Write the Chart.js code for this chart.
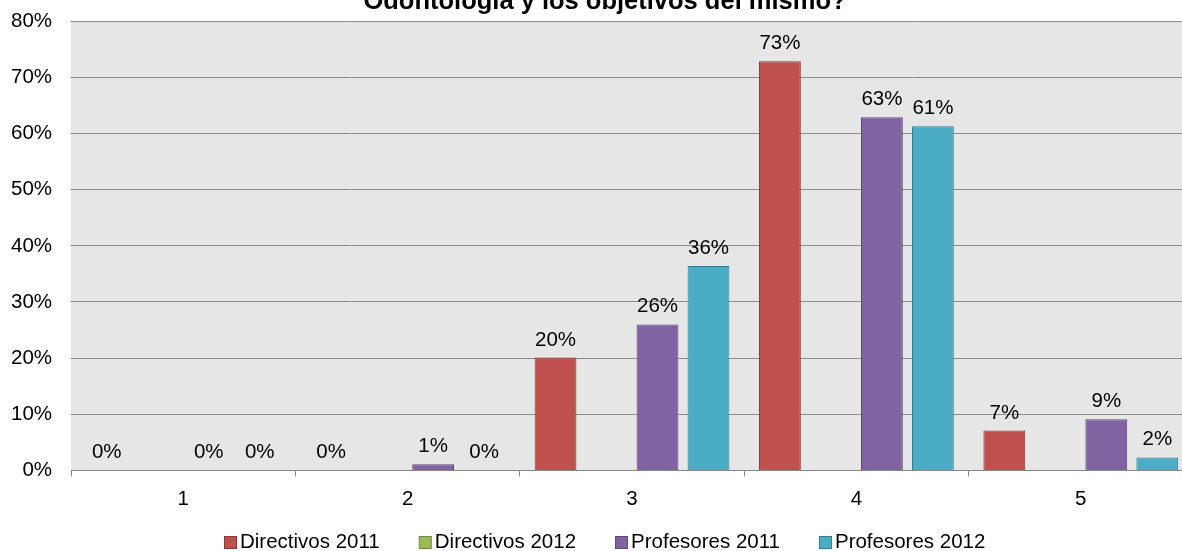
<!DOCTYPE html>
<html>
<head>
<meta charset="utf-8">
<script src="https://cdn.jsdelivr.net/npm/chart.js@4.4.1/dist/chart.umd.min.js"></script>
<style>
  html, body { margin: 0; padding: 0; background: #fff; overflow: hidden; }
  #wrap { position: relative; width: 1200px; height: 561px; margin-top: -10px; }
</style>
</head>
<body>
<div id="wrap"><canvas id="chart"></canvas></div>
<script>
const categories = ["1", "2", "3", "4", "5"];
const directivos2011 = [0, 0, 20.1, 72.9, 7.1];
const directivos2012 = [null, null, null, null, null];
const profesores2011 = [0, 1.1, 26, 62.9, 9.1];
const profesores2012 = [0, 0, 36.4, 61.3, 2.3];
const yTicks = [0, 10, 20, 30, 40, 50, 60, 70, 80];
const titleText = "Odontología y los objetivos del mismo?";

const FONT = "Arial, 'Liberation Sans', sans-serif";
const FS = 20.5;

// gray plot background
const plotBg = {
  id: "plotBg",
  beforeDraw(chart) {
    const a = chart.chartArea, ctx = chart.ctx;
    ctx.save();
    ctx.fillStyle = "#e6e6e6";
    ctx.fillRect(a.left, a.top, a.right - a.left, a.bottom - a.top);
    ctx.restore();
  }
};

// title, top half is cut off in the original
const cutTitle = {
  id: "cutTitle",
  afterDraw(chart) {
    const ctx = chart.ctx;
    ctx.save();
    ctx.font = "bold 25.5px " + FONT;
    ctx.fillStyle = "#000";
    ctx.textAlign = "center";
    ctx.textBaseline = "alphabetic";
    ctx.fillText(titleText, 605, 19);
    ctx.restore();
  }
};

// value labels above bars
const valueLabels = {
  id: "valueLabels",
  afterDatasetsDraw(chart) {
    const ctx = chart.ctx;
    ctx.save();
    ctx.font = FS + "px " + FONT;
    ctx.fillStyle = "#000";
    ctx.textAlign = "center";
    ctx.textBaseline = "alphabetic";
    chart.data.datasets.forEach((ds, i) => {
      const meta = chart.getDatasetMeta(i);
      meta.data.forEach((bar, j) => {
        const v = ds.data[j];
        if (v === null || v === undefined) return;
        ctx.fillText(Math.round(v) + "%", bar.x, bar.y - 12);
      });
    });
    ctx.restore();
  }
};

// legend drawn like the office one: small box, tight text
const bottomLegend = {
  id: "bottomLegend",
  afterDraw(chart) {
    const ctx = chart.ctx;
    const ds = chart.data.datasets;
    ctx.save();
    ctx.font = FS + "px " + FONT;
    ctx.textBaseline = "alphabetic";
    ctx.textAlign = "left";
    const box = 12, gap = 4, spacing = 39;
    const widths = ds.map(d => box + gap + ctx.measureText(d.label).width);
    let x = 224;
    const base = 558;
    ds.forEach((d, i) => {
      ctx.fillStyle = d.backgroundColor;
      ctx.fillRect(x + 0.5, base - box + 0.5, box, box);
      ctx.strokeStyle = d.borderColor;
      ctx.lineWidth = 1;
      ctx.strokeRect(x + 0.5, base - box + 0.5, box, box);
      ctx.fillStyle = "#000";
      ctx.fillText(d.label, x + box + gap, base);
      x += widths[i] + spacing;
    });
    ctx.restore();
  }
};

new Chart(document.getElementById("chart"), {
  type: "bar",
  data: {
    labels: categories,
    datasets: [
      { label: "Directivos 2011", data: directivos2011, backgroundColor: "#c0504d", borderColor: "#8c3836", borderWidth: 1 },
      { label: "Directivos 2012", data: directivos2012, backgroundColor: "#9bbb59", borderColor: "#71893f", borderWidth: 1 },
      { label: "Profesores 2011", data: profesores2011, backgroundColor: "#8064a2", borderColor: "#5c4776", borderWidth: 1 },
      { label: "Profesores 2012", data: profesores2012, backgroundColor: "#4bacc6", borderColor: "#357d91", borderWidth: 1 }
    ]
  },
  options: {
    responsive: true,
    maintainAspectRatio: false,
    animation: false,
    layout: { padding: { top: 0, right: 7, left: -8, bottom: 28 } },
    datasets: { bar: { categoryPercentage: 0.909, barPercentage: 0.82 } },
    plugins: {
      title: { display: false },
      tooltip: { enabled: false },
      legend: { display: false }
    },
    scales: {
      x: {
        grid: { drawOnChartArea: false, drawTicks: true, tickLength: 6, color: "#868686", offset: true },
        border: { display: true, color: "#868686" },
        ticks: { font: { family: FONT, size: FS }, color: "#000", padding: 11 }
      },
      y: {
        min: 0,
        max: 80,
        afterBuildTicks(axis) { axis.ticks = yTicks.map(v => ({ value: v })); },
        grid: { color: "#8c8c8c", drawTicks: false },
        border: { display: false },
        ticks: {
          font: { family: FONT, size: FS },
          color: "#000",
          padding: 19,
          callback: v => v + "%"
        }
      }
    }
  },
  plugins: [plotBg, valueLabels, cutTitle, bottomLegend]
});
</script>
</body>
</html>
